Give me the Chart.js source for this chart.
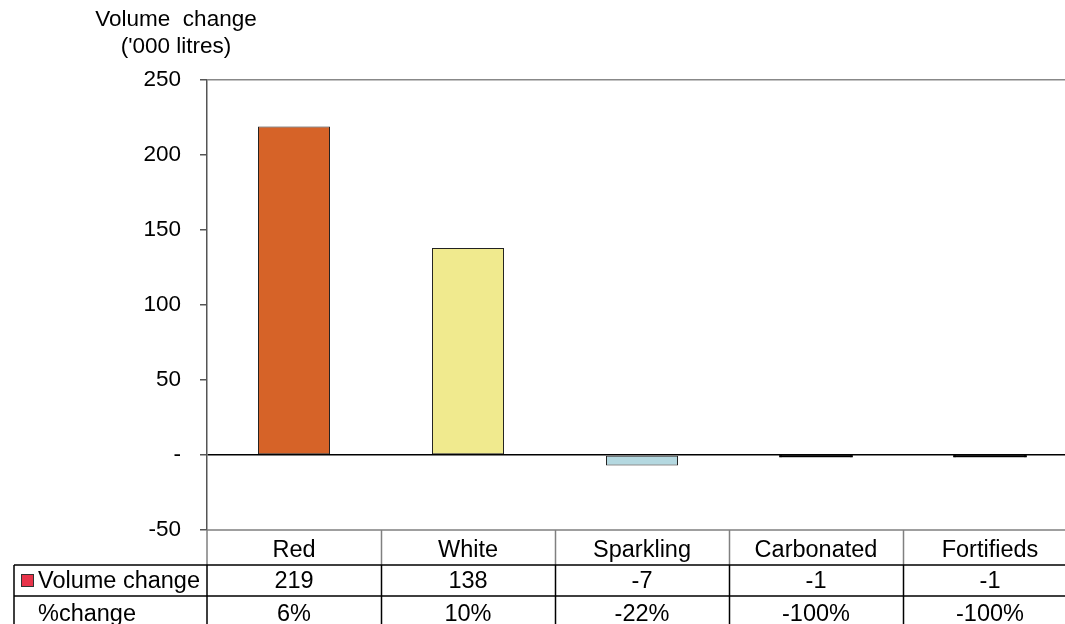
<!DOCTYPE html>
<html>
<head>
<meta charset="utf-8">
<script src="https://cdn.jsdelivr.net/npm/chart.js@4/dist/chart.umd.min.js"></script>
<style>
  html, body { margin: 0; padding: 0; background: #fff; overflow: hidden; }
  #wrap { width: 1077px; height: 624px; position: relative; }
</style>
</head>
<body>
<div id="wrap"><canvas id="chart"></canvas></div>
<script>
const categories = ['Red', 'White', 'Sparkling', 'Carbonated', 'Fortifieds'];
const volumeChange = [219, 138, -7, -1, -1];
const pctChange = ['6%', '10%', '-22%', '-100%', '-100%'];
const rowLabels = ['Volume change', '%change'];
const yTicks = [-50, 0, 50, 100, 150, 200, 250];

const barColors = ['#D66328', '#F0EA8E', '#B4D8E0', '#000000', '#000000'];
const FONT = '"Liberation Sans", Arial, sans-serif';

// axis title + data table under the plot
const tablePlugin = {
  id: 'tablePlugin',
  afterDraw(chart) {
    const c = chart.ctx;
    const area = chart.chartArea;
    const x = chart.scales.x;
    const step = x.getPixelForValue(1) - x.getPixelForValue(0);
    const r0 = area.bottom, r1 = r0 + 35, r2 = r1 + 31, r3 = r2 + 32;
    const left = 14;
    c.save();

    // y axis title
    c.fillStyle = '#000';
    c.font = '22.5px ' + FONT;
    c.textAlign = 'center';
    c.textBaseline = 'alphabetic';
    c.fillText('Volume  change', 176, 26);
    c.fillText("('000 litres)", 176, 53);

    // header row lines (grey)
    c.strokeStyle = '#808080';
    c.lineWidth = 1.5;
    c.beginPath();
    c.moveTo(area.left, r0); c.lineTo(area.right, r0);
    for (let i = 1; i < categories.length; i++) {
      const bx = Math.round(x.getPixelForValue(i) - step / 2) + 0.5;
      c.moveTo(bx, r0); c.lineTo(bx, r1);
    }
    c.moveTo(area.left, r0); c.lineTo(area.left, r1);
    c.stroke();

    // value rows (black)
    c.strokeStyle = '#000';
    c.beginPath();
    c.moveTo(left, r1); c.lineTo(area.right, r1);
    c.moveTo(left, r2); c.lineTo(area.right, r2);
    c.moveTo(left, r1); c.lineTo(left, r3);
    c.moveTo(area.left, r1); c.lineTo(area.left, r3);
    for (let i = 1; i < categories.length; i++) {
      const bx = Math.round(x.getPixelForValue(i) - step / 2) + 0.5;
      c.moveTo(bx, r1); c.lineTo(bx, r3);
    }
    c.stroke();

    // texts
    c.font = '23.5px ' + FONT;
    c.fillStyle = '#000';
    c.textAlign = 'center';
    categories.forEach((cat, i) => {
      const cx = x.getPixelForValue(i);
      c.fillText(cat, cx, r0 + 26.5);
      c.fillText(String(volumeChange[i]), cx, r1 + 23);
      c.fillText(pctChange[i], cx, r2 + 25);
    });

    // row labels with legend key
    c.fillStyle = '#E8344A';
    c.fillRect(21, r1 + 9, 12, 12);
    c.strokeStyle = '#333';
    c.lineWidth = 1;
    c.strokeRect(21.5, r1 + 9.5, 12, 12);
    c.fillStyle = '#000';
    c.textAlign = 'left';
    c.fillText(rowLabels[0], 38, r1 + 23);
    c.fillText(rowLabels[1], 38, r2 + 25);
    c.restore();
  }
};

new Chart(document.getElementById('chart'), {
  type: 'bar',
  data: {
    labels: categories,
    datasets: [{
      label: rowLabels[0],
      data: volumeChange,
      backgroundColor: barColors,
      borderColor: '#222',
      borderWidth: 1,
      borderSkipped: false,
      inflateAmount: ctx => Math.abs(ctx.raw) < 2 ? 1 : 'auto',
      barPercentage: 0.414,
      categoryPercentage: 1
    }]
  },
  options: {
    responsive: true,
    maintainAspectRatio: false,
    animation: false,
    layout: { padding: { top: 80, bottom: 94, left: 0, right: 0 } },
    plugins: { legend: { display: false }, tooltip: { enabled: false } },
    scales: {
      x: { display: false },
      y: {
        min: -50,
        max: 250,
        afterFit(scale) { scale.width = 207; },
        afterBuildTicks(scale) { scale.ticks = yTicks.map(v => ({ value: v })); },
        border: { display: true, color: '#555', width: 1.5 },
        grid: {
          drawOnChartArea: true,
          tickLength: 7,
          tickColor: '#555',
          lineWidth: 1.5,
          color: ctx => ctx.tick && ctx.tick.value === 0 ? '#000'
            : ctx.tick && ctx.tick.value === 250 ? '#888' : 'rgba(0,0,0,0)'
        },
        ticks: {
          padding: 19,
          color: '#000',
          font: { family: FONT, size: 22.5 },
          callback: v => v === 0 ? '-' : v
        }
      }
    }
  },
  plugins: [tablePlugin]
});
</script>
</body>
</html>
